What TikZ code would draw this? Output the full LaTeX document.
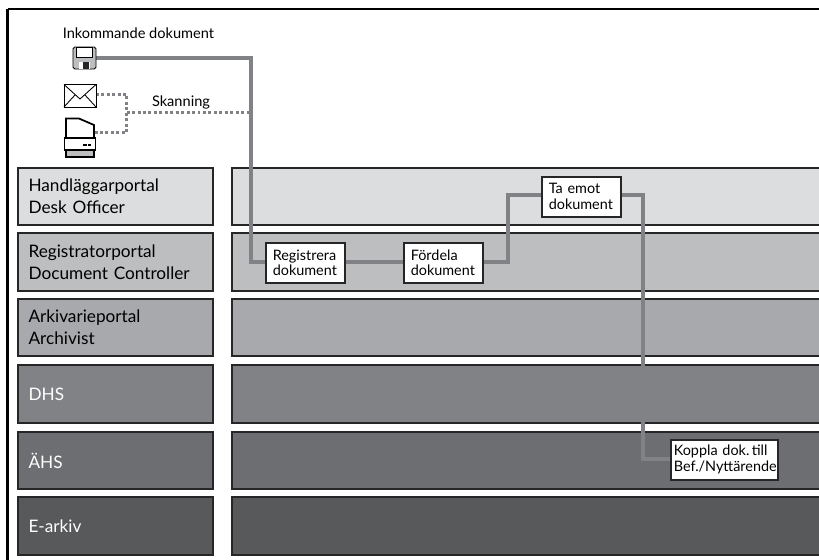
\documentclass[tikz,border=0pt]{standalone}
\usepackage{fontspec}
\setmainfont{Lato}
\definecolor{flowgray}{HTML}{808285}
\definecolor{rowa}{HTML}{DCDDDE}
\definecolor{rowb}{HTML}{BCBEC0}
\definecolor{rowc}{HTML}{A7A9AC}
\definecolor{rowd}{HTML}{808285}
\definecolor{rowe}{HTML}{6D6E71}
\definecolor{rowf}{HTML}{58595B}
\tikzset{
  portal/.style={draw=black!85, line width=1.2pt, minimum width=3.9cm, minimum height=1.15cm, text width=3.48cm, align=left, inner sep=0pt, font=\fontsize{9.8}{12.4}\selectfont},
  lane/.style={draw=black!85, line width=1.2pt, minimum width=12cm, minimum height=1.15cm, inner sep=0pt, anchor=west},
  task/.style={draw=black!85, fill=white, line width=0.9pt, align=left, inner xsep=0.14cm, inner ysep=0pt, text width=1.3cm, minimum height=0.8cm, font=\fontsize{8.2}{9}\selectfont, anchor=north west},
  flow/.style={draw=flowgray, line width=2pt},
  scanflow/.style={draw=flowgray, line width=1.8pt, dash pattern=on 1.7pt off 1.4pt},
  caption/.style={inner sep=0pt, font=\fontsize{8.3}{10}\selectfont}
}
\begin{document}
\begin{tikzpicture}[x=0.02cm,y=-0.02cm]
        \useasboundingbox (0,0) rectangle (819,559);
        \clip (0,0) rectangle (819,559);
        \draw[line width=1.2pt] (7.5,9) -- (830,9);
        \draw[line width=1.2pt] (7.5,9) -- (7.5,570);
        % Portals on the left
        \node[portal, fill=rowa] (desk) at (115.5,196.5) {Handläggarportal\\Desk Officer};
        \node[portal, fill=rowb] (controller) at (115.5,262) {Registratorportal\\Document Controller};
        \node[portal, fill=rowc] (archivist) at (115.5,327.5) {Arkivarieportal\\Archivist};
        \node[portal, fill=rowd, text=white] (dhs) at (115.5,394) {DHS};
        \node[portal, fill=rowe, text=white] (ahs) at (115.5,460.5) {ÄHS};
        \node[portal, fill=rowf, text=white] (earkiv) at (115.5,526) {E-arkiv};
        % Lanes on the right
        \node[lane, fill=rowa] (deskl) at (231,196.5) {};
        \node[lane, fill=rowb] (controllerl) at (231,262) {};
        \node[lane, fill=rowc] (archivistl) at (231,327.5) {};
        \node[lane, fill=rowd] (dhsl) at (231,394) {};
        \node[lane, fill=rowe] (ahsl) at (231,460.5) {};
        \node[lane, fill=rowf] (earkivl) at (231,526) {};
        % Incoming documents
        \node[caption] (incoming) at (138.5,33) {Inkommande dokument};
        \coordinate (floppy) at (96,58);
        \coordinate (envelope) at (96,94.5);
        \coordinate (scanner) at (94,132.7);
        \coordinate (scanbend) at (126.7,112.7);
        \coordinate (scanend) at (249,112.7);
        \coordinate (incbend) at (251,58);
        \coordinate (regbend) at (251,262);
        % Tasks
        \node[task] at (265,242) (register) {Registrera\\dokument};
        \node[task] at (403,242) (assign) {Fördela\\dokument};
        \node[task] at (541,176) (receive) {Ta emot\\dokument};
        \node[task, inner xsep=0.06cm, text width=2.02cm] at (670,439) (link) {Koppla dok.\,till\\Bef./Nyttärende};
        % Connectors
        \draw[flow] (floppy) -- (incbend) -- (regbend) -- (register.west |- regbend);
        \draw[flow] (register.east |- regbend) -- (assign.west |- regbend);
        \draw[flow] (assign.east |- regbend) -- (508,262) -- (508,195) -- (receive.west |- 0,195);
        \draw[flow] (receive.east |- 0,195) -- (643,195) -- (643,459) -- (link.west |- 0,459);
        \draw[scanflow] (envelope) -- (126.7,94.5) -- (126.7,132.7) -- (scanner);
        \draw[scanflow] (scanbend) -- (scanend);
        \node[caption] (scanning) at (181,102) {Skanning};
        % Floppy disk
        \draw[fill=rowb, line width=0.5pt, rounded corners=1pt] (73,47) rectangle (96,69);
        \fill[white] (76,47.5) rectangle (92,57);
        \draw[line width=0.5pt] (76,47) rectangle (92,57);
        \fill[white] (79,62) rectangle (90,69);
        \fill[black!85] (83,62) rectangle (89,69);
        % Envelope
        \draw[fill=white, line width=0.5pt] (64,84.5) rectangle (96,107);
        \draw[line width=0.5pt] (64,84.5) -- (80,99) -- (96,84.5);
        \draw[line width=0.5pt] (64,107) -- (75,95);
        \draw[line width=0.5pt] (96,107) -- (85,95);
        % Scanner
        \draw[fill=white, line width=1pt] (66,138) -- (66,118.5) -- (79,118.5) -- (94,125) -- (94,138);
        \draw[fill=white, line width=1pt] (64.5,138) rectangle (95.5,150);
        \draw[fill=rowb, line width=1pt] (66,150) rectangle (94,157);
        \fill[black] (83,144.4) rectangle (86.5,145.8);
        \fill[black] (87.5,144.4) rectangle (91,145.8);
    \end{tikzpicture}
\end{document}
